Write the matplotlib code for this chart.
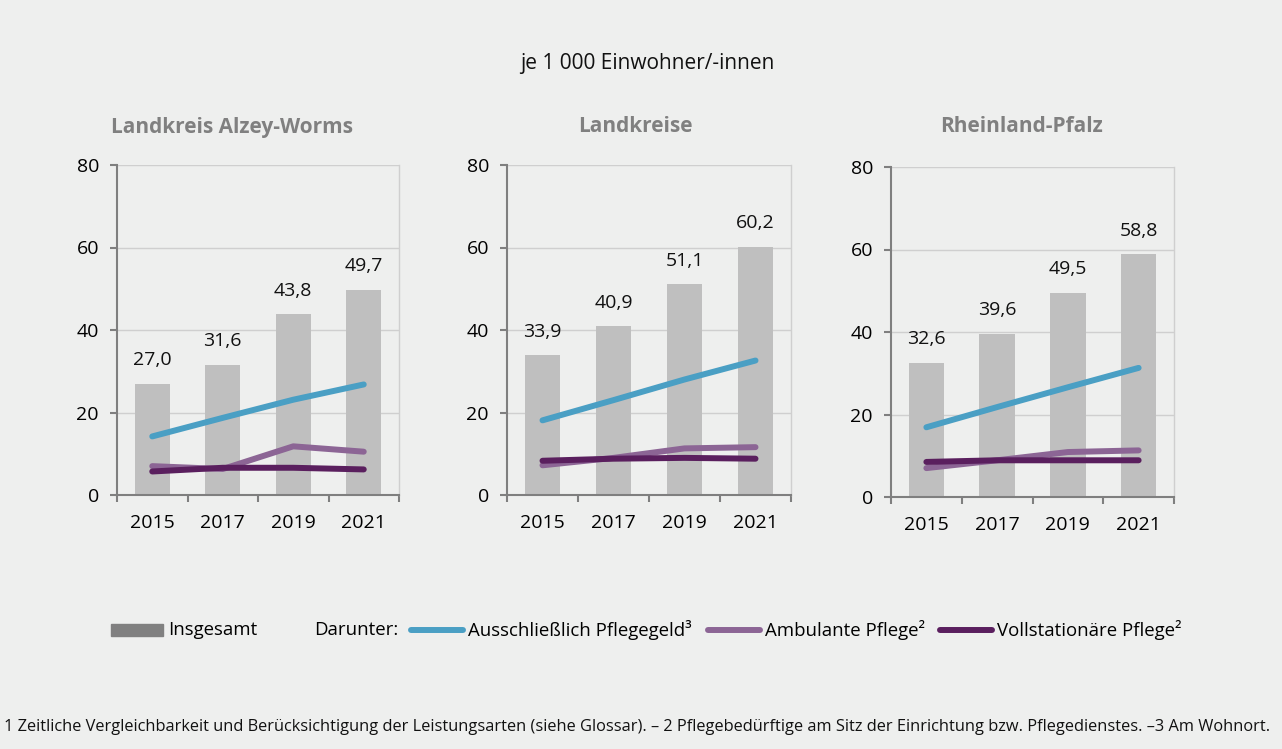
import matplotlib
matplotlib.use("Agg")
import matplotlib.pyplot as plt
from matplotlib.lines import Line2D
from matplotlib.patches import Rectangle
from matplotlib.ticker import FixedLocator, NullFormatter

plt.rcParams['font.family'] = ['Open Sans', 'DejaVu Sans']

years = ['2015', '2017', '2019', '2021']
regions = ['Landkreis Alzey-Worms', 'Landkreise', 'Rheinland-Pfalz']

insgesamt = [
    [27.0, 31.6, 43.8, 49.7],
    [33.9, 40.9, 51.1, 60.2],
    [32.6, 39.6, 49.5, 58.8],
]
pflegegeld = [
    [14.2, 18.7, 23.1, 26.8],
    [18.1, 23.0, 28.0, 32.6],
    [16.9, 21.8, 26.6, 31.3],
]
ambulant = [
    [7.0, 6.3, 11.8, 10.5],
    [7.2, 9.0, 11.3, 11.6],
    [7.0, 8.9, 10.9, 11.3],
]
stationaer = [
    [5.7, 6.6, 6.6, 6.2],
    [8.3, 8.8, 9.0, 8.8],
    [8.5, 8.9, 8.9, 8.9],
]

legend_labels = ['Insgesamt', 'Ausschließlich Pflegegeld³',
                 'Ambulante Pflege²', 'Vollstationäre Pflege²']

BG = '#eeefee'
BAR = '#bfbfbf'
C_GELD = '#4a9fc4'
C_AMB = '#8c6595'
C_STAT = '#5a1f5e'
SPINE = '#7f7f7f'
GRID = '#cfcfcf'

W, H = 1282, 749
fig = plt.figure(figsize=(W / 100, H / 100), dpi=100, facecolor=BG)


def fx(x):
    return x / W


def fy(y):
    return 1 - y / H


# panel boxes in pixels: left, right, top, bottom
boxes = [(117, 399, 165, 495), (507, 791, 165, 495), (891, 1174, 167, 497)]
title_x = [232, 635, 1022]

for i, (l, r, t, b) in enumerate(boxes):
    ax = fig.add_axes([fx(l), fy(b), fx(r - l), (b - t) / H])
    ax.set_facecolor(BG)
    xs = range(len(years))
    ax.bar(xs, insgesamt[i], width=0.5, color=BAR, zorder=2)
    for x, v in zip(xs, insgesamt[i]):
        ax.annotate(f'{v:.1f}'.replace('.', ','), (x, v), xytext=(0, 17),
                    textcoords='offset points', ha='center', va='center',
                    fontsize=14, color='#111111')
    for vals, c in [(pflegegeld[i], C_GELD), (ambulant[i], C_AMB), (stationaer[i], C_STAT)]:
        ax.plot(xs, vals, color=c, lw=4.3, solid_capstyle='round', zorder=3)

    ax.set_xlim(-0.5, 3.5)
    ax.set_ylim(0, 80)
    ax.set_yticks([0, 20, 40, 60, 80])
    ax.yaxis.grid(True, color=GRID, lw=1, zorder=0)
    ax.set_axisbelow(True)

    ax.xaxis.set_major_locator(FixedLocator([-0.5, 0.5, 1.5, 2.5, 3.5]))
    ax.xaxis.set_major_formatter(NullFormatter())
    ax.xaxis.set_minor_locator(FixedLocator(list(xs)))
    ax.set_xticklabels(years, minor=True)
    ax.tick_params(axis='x', which='major', length=5, width=1.5, color=SPINE)
    ax.tick_params(axis='x', which='minor', length=0, pad=14, labelsize=14)
    ax.tick_params(axis='y', length=5, width=1.5, color=SPINE, pad=8, labelsize=14)

    ax.spines['top'].set_visible(False)
    ax.spines['right'].set_color(GRID)
    ax.spines['right'].set_linewidth(1)
    for s in ['left', 'bottom']:
        ax.spines[s].set_color(SPINE)
        ax.spines[s].set_linewidth(1.5)

    fig.text(fx(title_x[i]), fy(127), regions[i], ha='center', va='center',
             fontsize=15, fontweight='bold', color='#808080')

fig.text(fx(647), fy(63), 'je 1 000 Einwohner/-innen', ha='center', va='center',
         fontsize=15, color='#111111')

# legend row
ly = fy(630)
fig.add_artist(Rectangle((fx(111), fy(636)), fx(52), 12 / H, color='#808080',
                         transform=fig.transFigure))
fig.text(fx(168), ly, legend_labels[0], ha='left', va='center', fontsize=13.4)
fig.text(fx(314), ly, 'Darunter:', ha='left', va='center', fontsize=13.4)
for x0, c, lab in [(409, C_GELD, legend_labels[1]), (706, C_AMB, legend_labels[2]),
                   (938, C_STAT, legend_labels[3])]:
    fig.add_artist(Line2D([fx(x0 + 2), fx(x0 + 54)], [ly, ly], color=c, lw=4.3,
                          solid_capstyle='round', transform=fig.transFigure))
    fig.text(fx(x0 + 59), ly, lab, ha='left', va='center', fontsize=13.4)

fig.text(fx(4), fy(727),
         '1 Zeitliche Vergleichbarkeit und Berücksichtigung der Leistungsarten (siehe Glossar). '
         '– 2 Pflegebedürftige am Sitz der Einrichtung bzw. Pflegedienstes. –3 Am Wohnort.',
         ha='left', va='center', fontsize=11.8, color='#111111')

fig.savefig('out.png', dpi=100, facecolor=BG)
